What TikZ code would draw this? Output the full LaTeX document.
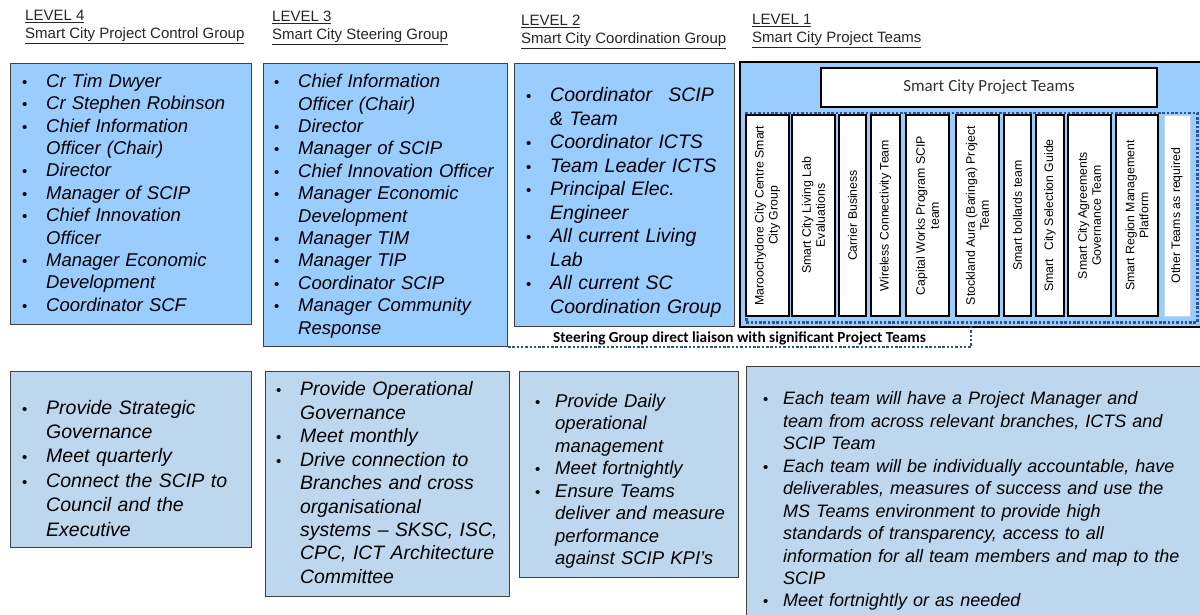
\documentclass[tikz,border=0pt]{standalone}
\usepackage{fontspec}
\setmainfont{Liberation Sans}
\newfontfamily\califont{Carlito}
\usepackage{xcolor}
\definecolor{topblue}{RGB}{153,204,255}
\definecolor{lowblue}{RGB}{189,215,238}
\definecolor{dotblue}{RGB}{46,84,150}
\setlength\parskip{0pt}
\newlength\bind
\newcommand\bitem{\par\hangindent=\bind\hangafter=1\noindent\strut
  \makebox[\bind][l]{\makebox[5pt]{\fontsize{15}{15}\selectfont\upshape\textbullet}}}
\newcommand\nl{\newline}

\begin{document}
\begin{tikzpicture} [x=1pt, y=-1pt,
    box/.style={draw=black!75, line width=1pt, anchor=north west, inner sep=0pt},
    topbox/.style={box, fill=topblue},
    lowbox/.style={box, fill=lowblue},
    lst/.style={anchor=north west, inner sep=0pt, align=left, text width=#1},
    bulind/.style={execute at begin node={\setlength\bind{#1}}},
    head/.style={anchor=north west, inner sep=0pt, align=left, font=\fontsize{15}{18}\selectfont, text=black!85},
    teambox/.style={draw=black, line width=1.2pt, fill=white, rotate=90, inner sep=1pt, minimum width=201pt, align=center, font=\fontsize{12.3}{14}\selectfont},
    dots/.style={draw=dotblue, line width=2.5pt, dash pattern=on 2.5pt off 1.8pt} ]
    \useasboundingbox (0,0) rectangle (1200,615);

    % headings
    \node[head] (lev4) at (25,7.9) {\strut\underline{LEVEL 4}\\\underline{Smart City Project Control Group}};
    \node[head] (lev3) at (272,8.9) {\strut\underline{LEVEL 3}\\\underline{Smart City Steering Group}};
    \node[head] (lev2) at (521,12.9) {\strut\underline{LEVEL 2}\\\underline{Smart City Coordination Group}};
    \node[head] (lev1) at (752,11.9) {\strut\underline{LEVEL 1}\\\underline{Smart City Project Teams}};

    % top row
    \node[topbox, minimum width=241pt, minimum height=261pt] (l4top) at (10,63) {};
    \node[topbox, minimum width=244pt, minimum height=283pt] (l3top) at (263,63) {};
    \node[topbox, minimum width=220pt, minimum height=263pt] (l2top) at (514,63) {};
    \node[topbox, draw=black, line width=2pt, minimum width=464pt, minimum height=265pt] (l1top) at (739,61) {};

    \node[lst=225pt, bulind=24pt, font=\fontsize{18.5}{22.4}\selectfont\itshape] (l4list) at (22,64.8) {
      \bitem Cr Tim Dwyer
      \bitem Cr Stephen Robinson
      \bitem Chief Information\nl Officer (Chair)
      \bitem Director
      \bitem Manager of SCIP
      \bitem Chief Innovation\nl Officer
      \bitem Manager Economic\nl Development
      \bitem Coordinator SCF\par};
    \node[lst=235pt, bulind=24pt, font=\fontsize{18.5}{22.4}\selectfont\itshape] (l3list) at (274,65.1) {
      \bitem Chief Information\nl Officer (Chair)
      \bitem Director
      \bitem Manager of SCIP
      \bitem Chief Innovation Officer
      \bitem Manager Economic\nl Development
      \bitem Manager TIM
      \bitem Manager TIP
      \bitem Coordinator SCIP
      \bitem Manager Community\nl Response\par};
    \node[lst=210pt, bulind=24pt, font=\fontsize{19.5}{23.5}\selectfont\itshape] (l2list) at (526,78) {
      \bitem Coordinator\hspace{0.5em} SCIP\nl \& Team
      \bitem Coordinator ICTS
      \bitem Team Leader ICTS
      \bitem Principal Elec.\nl Engineer
      \bitem All current Living\nl Lab
      \bitem All current SC\nl Coordination Group\par};

    % level 1 teams
    \node[fill=white, draw=black, line width=1.5pt, minimum width=336pt, minimum height=39pt,
      font=\califont\fontsize{17}{20}\selectfont, text=black!80] (teamhead) at (989,87.5) {Smart City Project Teams};
    \node[dots, anchor=north west, inner sep=0pt, minimum width=451pt, minimum height=209pt] (teamarea) at (745,112) {};
    \foreach \cx/\w/\txt [count=\n] in {
        767.5/43/{Maroochydore City Centre Smart\\City Group},
        813.5/43/{Smart City Living Lab\\Evaluations},
        852.5/27/{Carrier Business},
        885.5/29/{Wireless Connectivity Team},
        927.5/43/{Capital Works Program SCIP\\team},
        977.5/43/{Stockland Aura (Baringa) Project\\Team},
        1017.5/27/{Smart bollards team},
        1050/28/{Smart\hspace{0.4em} City Selection Guide},
        1089.5/43/{Smart City Agreements\\Governance Team},
        1137/42/{Smart Region Management\\Platform}}
      \node[teambox, minimum height=\w pt] (team\n) at (\cx,215.5) {\txt};
    \node[teambox, draw=lowblue, line width=0.8pt, minimum height=26pt] (team11) at (1177,215.5) {Other Teams as required};

    % liaison
    \coordinate (liaison) at (971,326);
    \draw[dots] (l3top.south east) -- node[above, inner sep=1pt, text=black, font=\califont\bfseries\fontsize{15.3}{17}\selectfont] (liaisontext) {Steering Group direct liaison with significant Project Teams} (l3top.south east -| liaison) -- (liaison);

    % bottom row
    \node[lowbox, minimum width=241pt, minimum height=176pt] (l4low) at (10,371) {};
    \node[lowbox, minimum width=244pt, minimum height=225pt] (l3low) at (265,371) {};
    \node[lowbox, minimum width=219pt, minimum height=206pt] (l2low) at (519,371) {};
    \node[lowbox, minimum width=458pt, minimum height=255pt] (l1low) at (746,366) {};

    \node[lst=215pt, bulind=24pt, font=\fontsize{19.5}{24.4}\selectfont\itshape] (l4tasks) at (22,389.4) {
      \bitem Provide Strategic\nl Governance
      \bitem Meet quarterly
      \bitem Connect the SCIP to\nl Council and the\nl Executive\par};
    \node[lst=232pt, bulind=24pt, font=\fontsize{19.4}{23.46}\selectfont\itshape] (l3tasks) at (276,372.1) {
      \bitem Provide Operational\nl Governance
      \bitem Meet monthly
      \bitem Drive connection to\nl Branches and cross\nl organisational\nl systems -- SKSC, ISC,\nl CPC, ICT Architecture\nl Committee\par};
    \node[lst=205pt, bulind=20pt, font=\fontsize{18.5}{22.43}\selectfont\itshape] (l2tasks) at (535,384.8) {
      \bitem Provide Daily\nl operational\nl management
      \bitem Meet fortnightly
      \bitem Ensure Teams\nl deliver and measure\nl performance\nl against SCIP KPI’s\par};
    \node[lst=430pt, bulind=20pt, font=\fontsize{18}{22.44}\selectfont\itshape] (l1tasks) at (763,382.3) {
      \bitem Each team will have a Project Manager and\nl team from across relevant branches, ICTS and\nl SCIP Team
      \bitem Each team will be individually accountable, have\nl deliverables, measures of success and use the\nl MS Teams environment to provide high\nl standards of transparency, access to all\nl information for all team members and map to the\nl SCIP
      \bitem Meet fortnightly or as needed\par};
\end{tikzpicture}
\end{document}
